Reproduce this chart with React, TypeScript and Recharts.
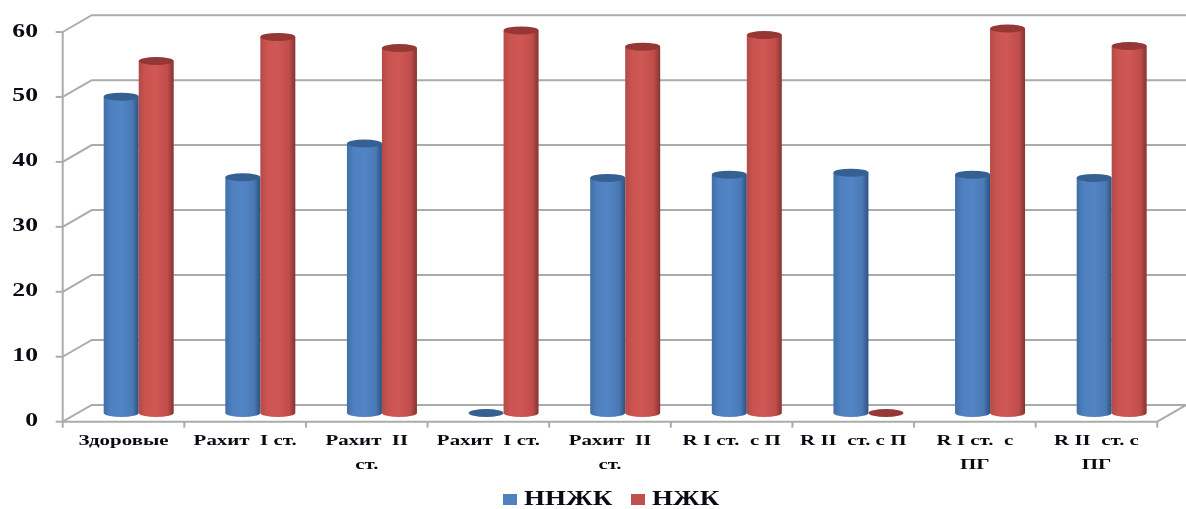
import { Bar, BarChart, CartesianGrid, Legend, XAxis, YAxis } from 'recharts';

const categories = [
  'Здоровые',
  'Рахит  I ст.',
  'Рахит  II\nст.',
  'Рахит  I ст.',
  'Рахит  II\nст.',
  'R I ст.  с П',
  'R II  ст. с П',
  'R I ст.  с\nПГ',
  'R II  ст. с\nПГ',
];
const nnzhk = [48.7, 36.3, 41.5, 0, 36.2, 36.7, 37, 36.7, 36.2];
const nzhk = [54.2, 57.9, 56.2, 58.9, 56.4, 58.2, 0, 59.2, 56.5];
const yTicks = [0, 10, 20, 30, 40, 50, 60];

const tableData = categories.map((name, i) => ({ name, nnzhk: nnzhk[i], nzhk: nzhk[i] }));

const WIDTH = 1186;
const HEIGHT = 509;
const LEFT = 62.7;
const RIGHT = 1157.3;
const TOP = 32;
const FLOOR = 421.7;
const BAND = (RIGHT - LEFT) / categories.length;
const GRAY = '#ababab';
const FONT = '"Liberation Serif", serif';
const STRETCH = 1.35;

// the wall and floor of the fake 3d box
const DEPTH_X = 29;
const DEPTH_Y = 16.8;
// bars stand in the middle of the floor
const BAR_DX = 15;
const BAR_DY = -8.7;

const GridLine = (props: any) => {
  const { x1, x2, y1 } = props;
  const isFloor = Math.abs(y1 - FLOOR) < 1;
  const back = y1 - DEPTH_Y;
  const points = `${x1},${y1} ${x1 + DEPTH_X},${back} ${x2 + DEPTH_X},${back}` + (isFloor ? ` ${x2},${y1}` : '');
  return <polyline key={props.index} points={points} fill="none" stroke={GRAY} strokeWidth={2} />;
};

const Cylinder = (props: any) => {
  const { x, y, width, height, gradient, cap } = props;
  const rx = width / 2;
  const ry = 4;
  const left = x + BAR_DX;
  const top = y + BAR_DY;
  const base = top + height;
  return (
    <g>
      {height > 0 && (
        <path
          d={`M${left},${top} L${left},${base} A${rx},${ry} 0 0 0 ${left + width},${base} L${left + width},${top} Z`}
          fill={`url(#${gradient})`}
        />
      )}
      <ellipse cx={left + rx} cy={top} rx={rx} ry={ry} fill={cap} />
    </g>
  );
};

const CategoryTick = (props: any) => {
  const { x, y, index, payload } = props;
  const lines = String(payload.value).split('\n');
  return (
    <g>
      <line x1={x - BAND / 2} x2={x - BAND / 2} y1={FLOOR} y2={FLOOR + 6} stroke={GRAY} strokeWidth={2} />
      {index === categories.length - 1 && (
        <line x1={x + BAND / 2} x2={x + BAND / 2} y1={FLOOR} y2={FLOOR + 6} stroke={GRAY} strokeWidth={2} />
      )}
      <g transform={`translate(${x},${y}) scale(${STRETCH},1)`}>
        {lines.map((line, i) => (
          <text
            key={i}
            x={0}
            y={i * 23.5 + 15.5}
            textAnchor="middle"
            fontFamily={FONT}
            fontWeight="bold"
            fontSize={15.5}
            fill="#0a0a14"
            style={{ whiteSpace: 'pre' }}
          >
            {line}
          </text>
        ))}
      </g>
    </g>
  );
};

const ValueTick = (props: any) => {
  const { y, payload } = props;
  return (
    <g transform={`translate(38,${y - 2}) scale(${STRETCH},1)`}>
      <text textAnchor="end" dy={6.5} fontFamily={FONT} fontWeight="bold" fontSize={19} fill="#0a0a14">
        {payload.value}
      </text>
    </g>
  );
};

const legendX = [503, 631];

const LegendRow = ({ payload }: any) => (
  <svg width={WIDTH} height={30} style={{ display: 'block' }}>
    {(payload || []).map((item: any, i: number) => (
      <g key={item.value}>
        <rect x={legendX[i]} y={15} width={14} height={11} fill={item.color} />
        <g transform={`translate(${legendX[i] + 21},25.5) scale(${STRETCH},1)`}>
          <text fontFamily={FONT} fontWeight="bold" fontSize={20} fill="#0a0a14">
            {item.value}
          </text>
        </g>
      </g>
    ))}
  </svg>
);

export default function App() {
  return (
    <div style={{ position: 'absolute', left: 0, top: 0, width: WIDTH, height: HEIGHT, background: '#fff', filter: 'blur(0.45px)' }}>
      <BarChart
        width={WIDTH}
        height={HEIGHT}
        data={tableData}
        barSize={35}
        barGap={0}
        margin={{ top: TOP, right: WIDTH - RIGHT, left: 0, bottom: 0 }}
      >
        <defs>
          <linearGradient id="blueCyl" x1="0" y1="0" x2="1" y2="0">
            <stop offset="0" stopColor="#3f6fa8" />
            <stop offset="0.2" stopColor="#4f80bf" />
            <stop offset="0.5" stopColor="#5285c6" />
            <stop offset="0.82" stopColor="#4a7ab5" />
            <stop offset="1" stopColor="#2c5182" />
          </linearGradient>
          <linearGradient id="redCyl" x1="0" y1="0" x2="1" y2="0">
            <stop offset="0" stopColor="#b34a47" />
            <stop offset="0.2" stopColor="#cb5451" />
            <stop offset="0.5" stopColor="#cf5754" />
            <stop offset="0.82" stopColor="#c04d4a" />
            <stop offset="1" stopColor="#843432" />
          </linearGradient>
        </defs>
        <CartesianGrid vertical={false} horizontal={GridLine} />
        <XAxis
          dataKey="name"
          height={HEIGHT - FLOOR - 30}
          interval={0}
          axisLine={{ stroke: GRAY, strokeWidth: 2 }}
          tickLine={false}
          tick={CategoryTick}
        />
        <YAxis
          width={LEFT}
          domain={[0, 60]}
          ticks={yTicks}
          interval={0}
          axisLine={{ stroke: GRAY, strokeWidth: 2 }}
          tickLine={{ stroke: GRAY, strokeWidth: 2 }}
          tickSize={7}
          tick={ValueTick}
        />
        <Legend content={LegendRow} height={30} verticalAlign="bottom" itemSorter="dataKey" />
        <Bar
          dataKey="nnzhk"
          name="ННЖК"
          fill="#4f81bd"
          isAnimationActive={false}
          shape={(p: any) => <Cylinder {...p} gradient="blueCyl" cap="#376092" />}
        />
        <Bar
          dataKey="nzhk"
          name="НЖК"
          fill="#c0504d"
          isAnimationActive={false}
          shape={(p: any) => <Cylinder {...p} gradient="redCyl" cap="#953735" />}
        />
      </BarChart>
    </div>
  );
}
